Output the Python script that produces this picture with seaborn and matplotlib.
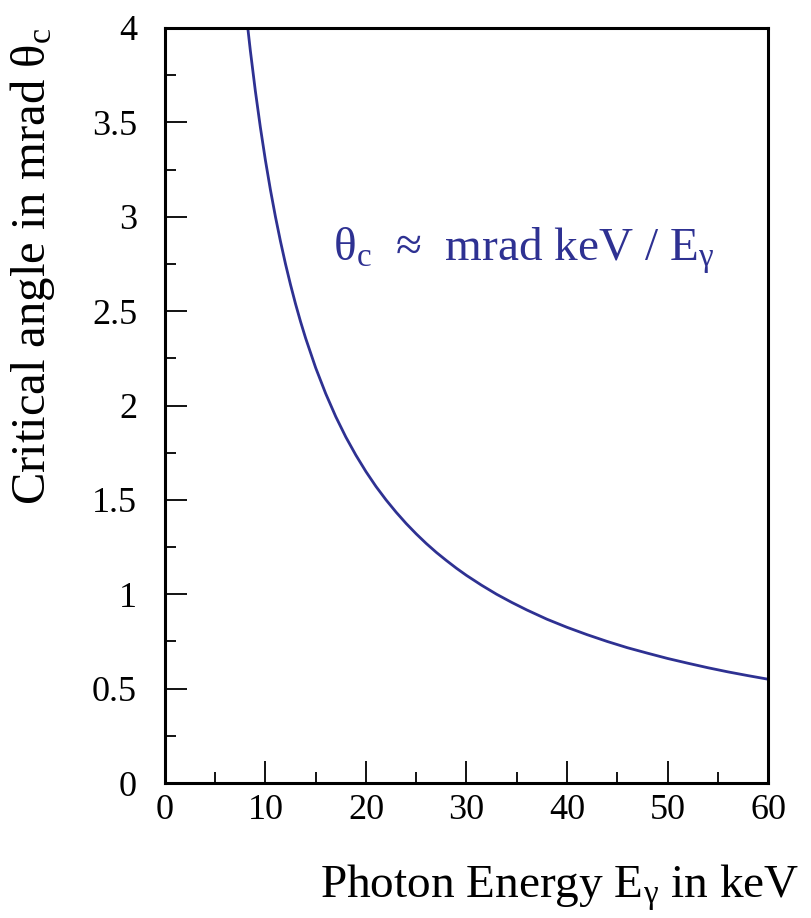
import matplotlib
matplotlib.use("Agg")
import matplotlib.pyplot as plt
import seaborn as sns
import pandas as pd
from matplotlib.ticker import MultipleLocator

# values
energy_kev = [8.2, 8.5, 9, 9.5, 10, 10.5, 11, 11.5, 12, 12.5, 13, 13.5, 14, 15, 16, 17,
              18, 19, 20, 21, 22, 23, 24, 25, 26, 27, 28, 29, 30, 31.5, 33, 34.5, 36,
              38, 40, 42, 44, 46, 48, 50, 52, 54, 56, 58, 60]
theta_mrad = [4.024, 3.882, 3.667, 3.474, 3.300, 3.143, 3.000, 2.870, 2.750, 2.640,
              2.538, 2.444, 2.357, 2.200, 2.063, 1.941, 1.833, 1.737, 1.650, 1.571,
              1.500, 1.435, 1.375, 1.320, 1.269, 1.222, 1.179, 1.138, 1.100, 1.048,
              1.000, 0.957, 0.917, 0.868, 0.825, 0.786, 0.750, 0.717, 0.688, 0.660,
              0.635, 0.611, 0.589, 0.569, 0.550]

x_ticks = [0, 10, 20, 30, 40, 50, 60]
y_ticks = [0, 0.5, 1, 1.5, 2, 2.5, 3, 3.5, 4]
y_tick_labels = ["0", "0.5", "1", "1.5", "2", "2.5", "3", "3.5", "4"]

line_color = "#2e3192"

sns.set_style("ticks")
plt.rcParams["font.family"] = ["Liberation Serif", "DejaVu Serif"]
plt.rcParams["mathtext.fontset"] = "custom"
plt.rcParams["mathtext.rm"] = "Liberation Serif"
plt.rcParams["mathtext.it"] = "Liberation Serif:italic"
plt.rcParams["text.color"] = "black"

df = pd.DataFrame({"E": energy_kev, "theta": theta_mrad})

fig = plt.figure(figsize=(8.12, 9.18), dpi=100)
ax = fig.add_axes([0.203, 0.147, 0.743, 0.8225])

sns.lineplot(data=df, x="E", y="theta", ax=ax, color=line_color, linewidth=2.0)

ax.set_xlim(0, 60)
ax.set_ylim(0, 4)
ax.set_xticks(x_ticks)
ax.set_yticks(y_ticks)
ax.set_yticklabels(y_tick_labels)
ax.xaxis.set_minor_locator(MultipleLocator(5))
ax.yaxis.set_minor_locator(MultipleLocator(0.25))
ax.tick_params(which="major", direction="in", length=16, width=1.3, labelsize=26,
               colors="black", top=False, right=False)
ax.tick_params(axis="y", which="major", pad=20)
ax.tick_params(axis="x", which="major", pad=8)
ax.tick_params(which="minor", direction="in", length=8, width=1.3, colors="black",
               top=False, right=False)
for s in ax.spines.values():
    s.set_linewidth(2.2)
    s.set_color("black")
ax.set_xlabel("")
ax.set_ylabel("")

ax.text(16.7, 2.82, "θ${}_{\\mathrm{c}}$  ≈  mrad keV / E${}_{\\mathrm{γ}}$",
        color=line_color, fontsize=34, va="center", ha="left")

fig.text(0.985, 0.022, "Photon Energy E${}_{\\mathrm{γ}}$ in keV", fontsize=34,
         ha="right", va="baseline")
fig.text(0.040, 0.97, "Critical angle in mrad θ${}_{\\mathrm{c}}$", fontsize=35,
         rotation=90, ha="center", va="top")

fig.savefig("out.png", dpi=100)
